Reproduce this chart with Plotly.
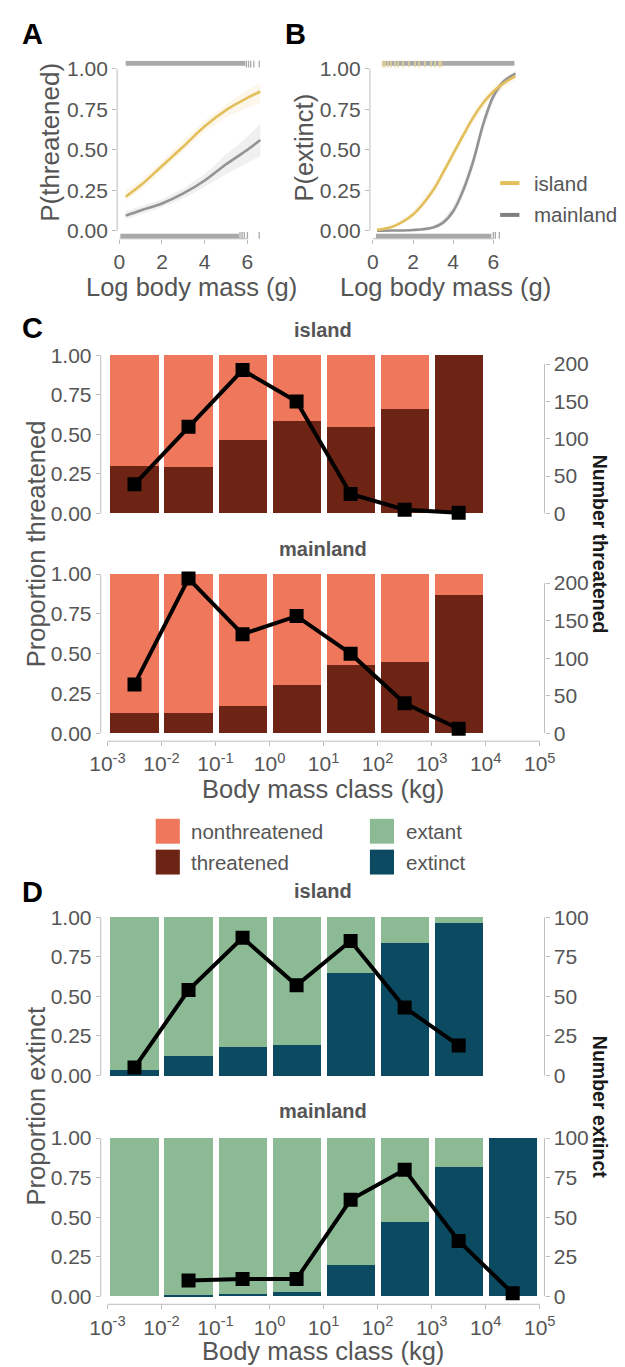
import numpy as np
import plotly.graph_objects as go

W, H = 625, 1367
FONT = "Liberation Sans, Arial, Helvetica, sans-serif"
TXT = "#555555"
AXC = "#bdbdbd"

# ---------------- data ----------------
# Panel A: fitted probability of being threatened vs log body mass
logmass_a = [0.3, 1.0, 2.0, 3.0, 4.0, 5.0, 6.0, 6.6]
thr_island = [0.21, 0.28, 0.40, 0.52, 0.645, 0.745, 0.82, 0.86]
thr_island_lo = [0.18, 0.25, 0.37, 0.49, 0.61, 0.70, 0.76, 0.79]
thr_island_hi = [0.25, 0.31, 0.43, 0.56, 0.68, 0.78, 0.87, 0.91]
thr_main = [0.093, 0.125, 0.168, 0.23, 0.31, 0.41, 0.50, 0.56]
thr_main_lo = [0.07, 0.10, 0.145, 0.20, 0.27, 0.35, 0.42, 0.46]
thr_main_hi = [0.12, 0.15, 0.195, 0.26, 0.35, 0.47, 0.58, 0.66]

# Panel B: fitted probability of extinction vs log body mass
logmass_b = [0.2, 1.0, 2.0, 3.0, 3.5, 4.0, 4.5, 5.0, 5.5, 6.0, 6.5, 7.1]
ext_island = [0.005, 0.026, 0.10, 0.25, 0.36, 0.475, 0.59, 0.70, 0.79, 0.86, 0.91, 0.955]
ext_island_lo = [0.002, 0.018, 0.08, 0.22, 0.33, 0.445, 0.56, 0.67, 0.76, 0.83, 0.88, 0.93]
ext_island_hi = [0.010, 0.035, 0.12, 0.28, 0.39, 0.505, 0.62, 0.73, 0.82, 0.89, 0.935, 0.975]
ext_main = [0.0, 0.001, 0.004, 0.02, 0.05, 0.12, 0.25, 0.43, 0.66, 0.83, 0.92, 0.97]
ext_main_lo = [0.0, 0.0, 0.002, 0.012, 0.035, 0.095, 0.215, 0.39, 0.62, 0.80, 0.90, 0.955]
ext_main_hi = [0.001, 0.003, 0.008, 0.03, 0.07, 0.15, 0.29, 0.47, 0.70, 0.86, 0.94, 0.985]

# Rugs of observed body masses (dense span + isolated species)
rug_a_top_span = [0.3, 5.9]
rug_a_top_ticks = [5.95, 6.05, 6.15, 6.3, 6.55]
rug_a_bot_span = [0.05, 5.6]
rug_a_bot_ticks = [5.65, 5.75, 5.85, 6.0, 6.55]
rug_b_top_span = [0.45, 7.05]
rug_b_top_island = [0.5, 0.6, 0.75, 0.9, 1.1, 1.25, 1.5, 1.8, 2.1, 2.3, 2.6, 2.9, 3.1, 3.3, 3.4]
rug_b_bot_span = [0.15, 5.9]
rug_b_bot_ticks = [6.0, 6.1, 6.3]

# Panels C/D: body-mass classes (lower bound, kg)
class_lower_kg = [1e-3, 1e-2, 1e-1, 1.0, 10.0, 100.0, 1e3, 1e4]
mass_tick_exp = [-3, -2, -1, 0, 1, 2, 3, 4, 5]

prop_threatened_island = [0.30, 0.293, 0.464, 0.586, 0.549, 0.66, 1.0]
num_threatened_island = [39, 116, 192, 150, 26, 5, 1]
prop_threatened_main = [0.125, 0.125, 0.171, 0.302, 0.427, 0.446, 0.869]
num_threatened_main = [65, 206, 132, 156, 106, 40, 6]

prop_extinct_island = [0.032, 0.126, 0.183, 0.194, 0.648, 0.838, 0.962]
num_extinct_island = [5, 54, 87, 57, 85, 43, 19]
prop_extinct_main = [0.0, 0.008, 0.017, 0.025, 0.20, 0.469, 0.815, 1.0]
num_extinct_main = [None, 10, 11, 11, 61, 80, 35, 2]

# secondary (count) axis scale relative to the proportion axis
count_scale_threatened = 212.0
count_scale_extinct = 100.0

COL_ISLAND = "#e3bf5c"
COL_MAIN = "#939393"
COL_NONTHR = "#ee775c"
COL_THR = "#6d2415"
COL_EXTANT = "#8cba95"
COL_EXTINCT = "#0b4a60"


def xdom(a, b):
    return [a / W, b / W]


def ydom(top, bottom):
    return [1 - bottom / H, 1 - top / H]


def px(x):
    return x / W


def py(y):
    return 1 - y / H


fig = go.Figure()

# ---------------- panels A and B ----------------
def band(x, lo, hi, color, xa, ya):
    fig.add_trace(go.Scatter(x=list(x) + list(x)[::-1], y=list(hi) + list(lo)[::-1],
                             fill="toself", fillcolor=color, line=dict(width=0),
                             mode="lines", xaxis=xa, yaxis=ya, showlegend=False, hoverinfo="skip"))


def curve(x, y, color, xa, ya):
    fig.add_trace(go.Scatter(x=x, y=y, mode="lines", line=dict(color=color, width=2.6, shape="spline"),
                             xaxis=xa, yaxis=ya, showlegend=False))


def rug(span, ticks, yv, color, xa, ya):
    fig.add_trace(go.Scatter(x=span, y=[yv, yv], mode="lines", line=dict(color=color, width=5),
                             xaxis=xa, yaxis=ya, showlegend=False, hoverinfo="skip"))
    if ticks:
        fig.add_trace(go.Scatter(x=ticks, y=[yv] * len(ticks), mode="markers",
                                 marker=dict(symbol="line-ns", size=6, line=dict(color=color, width=1.3)),
                                 xaxis=xa, yaxis=ya, showlegend=False, hoverinfo="skip"))


RUG_TOP, RUG_BOT = 1.034, -0.034
RUGC = "#a9a9a9"

band(logmass_a, thr_main_lo, thr_main_hi, "rgba(160,160,160,0.16)", "x", "y")
band(logmass_a, thr_island_lo, thr_island_hi, "rgba(230,195,95,0.13)", "x", "y")
curve(logmass_a, thr_main, COL_MAIN, "x", "y")
curve(logmass_a, thr_island, COL_ISLAND, "x", "y")
rug(rug_a_top_span, rug_a_top_ticks, RUG_TOP, RUGC, "x", "y")
rug(rug_a_bot_span, rug_a_bot_ticks, RUG_BOT, RUGC, "x", "y")

band(logmass_b, ext_main_lo, ext_main_hi, "rgba(160,160,160,0.16)", "x2", "y2")
band(logmass_b, ext_island_lo, ext_island_hi, "rgba(230,195,95,0.13)", "x2", "y2")
curve(logmass_b, ext_main, COL_MAIN, "x2", "y2")
curve(logmass_b, ext_island, COL_ISLAND, "x2", "y2")
rug(rug_b_top_span, None, RUG_TOP, RUGC, "x2", "y2")
fig.add_trace(go.Scatter(x=rug_b_top_island, y=[RUG_TOP] * len(rug_b_top_island), mode="markers",
                         marker=dict(symbol="line-ns", size=6, line=dict(color="#ead79c", width=1.4)),
                         xaxis="x2", yaxis="y2", showlegend=False, hoverinfo="skip"))
rug(rug_b_bot_span, rug_b_bot_ticks, RUG_BOT, RUGC, "x2", "y2")

# ---------------- panels C and D ----------------
class_mid = np.log10(class_lower_kg) + 0.5

bar_panels = [
    dict(xa="x3", ya="y3", ya2="y7", prop=prop_threatened_island, num=num_threatened_island,
         dark=COL_THR, light=COL_NONTHR, k=count_scale_threatened, cticks=[0, 50, 100, 150, 200]),
    dict(xa="x4", ya="y4", ya2="y8", prop=prop_threatened_main, num=num_threatened_main,
         dark=COL_THR, light=COL_NONTHR, k=count_scale_threatened, cticks=[0, 50, 100, 150, 200]),
    dict(xa="x5", ya="y5", ya2="y9", prop=prop_extinct_island, num=num_extinct_island,
         dark=COL_EXTINCT, light=COL_EXTANT, k=count_scale_extinct, cticks=[0, 25, 50, 75, 100]),
    dict(xa="x6", ya="y6", ya2="y10", prop=prop_extinct_main, num=num_extinct_main,
         dark=COL_EXTINCT, light=COL_EXTANT, k=count_scale_extinct, cticks=[0, 25, 50, 75, 100]),
]

for p in bar_panels:
    n = len(p["prop"])
    xs = class_mid[:n]
    dark = np.array(p["prop"], dtype=float)
    fig.add_trace(go.Bar(x=xs, y=dark, width=0.89, marker=dict(color=p["dark"], line=dict(width=0)),
                         xaxis=p["xa"], yaxis=p["ya"], showlegend=False))
    fig.add_trace(go.Bar(x=xs, y=1 - dark, width=0.89, marker=dict(color=p["light"], line=dict(width=0)),
                         xaxis=p["xa"], yaxis=p["ya"], showlegend=False))
    fig.add_trace(go.Scatter(x=xs, y=p["num"], mode="lines+markers",
                             line=dict(color="black", width=4),
                             marker=dict(symbol="square", size=14, color="black"),
                             xaxis=p["xa"], yaxis=p["ya2"], showlegend=False, connectgaps=False))

# ---------------- axes ----------------
tickfont = dict(family=FONT, size=21, color=TXT)
base = dict(showgrid=False, zeroline=False, showline=False, ticks="outside", ticklen=4,
            tickwidth=1, tickcolor=AXC, tickfont=tickfont)
prop_ticks = [0, 0.25, 0.5, 0.75, 1.0]
prop_text = [f"{v:.2f}" for v in prop_ticks]
yr = [-0.05, 1.05]

layout = dict(
    width=W, height=H, margin=dict(l=0, r=0, t=0, b=0),
    paper_bgcolor="white", plot_bgcolor="rgba(0,0,0,0)",
    barmode="stack", showlegend=False, font=dict(family=FONT, color=TXT),
)
layout["xaxis"] = dict(base, domain=xdom(110, 265), range=[-0.1, 6.9], tickvals=[0, 2, 4, 6], anchor="y")
layout["yaxis"] = dict(base, domain=ydom(57, 236), range=yr, tickvals=prop_ticks, ticktext=prop_text, anchor="x")
layout["xaxis2"] = dict(base, domain=xdom(372, 527), range=[-0.15, 7.3], tickvals=[0, 2, 4, 6], anchor="y2")
layout["yaxis2"] = dict(base, domain=ydom(57, 236), range=yr, tickvals=prop_ticks, ticktext=prop_text, anchor="x2")

xr = [-3.125, 5.089]
mass_text = [f"10<sup>{e}</sup>" for e in mass_tick_exp]
panel_px = [(345, 520), (565, 741), (910, 1085), (1132, 1307)]
for i, (p, (top, bot)) in enumerate(zip(bar_panels, panel_px)):
    xi = p["xa"][1:]
    yi = p["ya"][1:]
    y2i = p["ya2"][1:]
    showx = i in (1, 3)
    layout["xaxis" + xi] = dict(base, domain=xdom(93, 553), range=xr, anchor=p["ya"],
                               tickvals=mass_tick_exp, ticktext=mass_text,
                               showticklabels=showx, ticks="outside" if showx else "")
    layout["yaxis" + yi] = dict(base, domain=ydom(top, bot), range=yr, anchor=p["xa"],
                               tickvals=prop_ticks, ticktext=prop_text)
    layout["yaxis" + y2i] = dict(base, overlaying=p["ya"], side="right", anchor=p["xa"],
                                range=[yr[0] * p["k"], yr[1] * p["k"]], tickvals=p["cticks"])

# capped axis lines
shapes = []
line_style = dict(color=AXC, width=1)
for xa, ya, xt in [("x", "y", [0, 6]), ("x2", "y2", [0, 6])]:
    shapes.append(dict(type="line", xref=xa + " domain", x0=0, x1=0, yref=ya, y0=0, y1=1, line=line_style))
    shapes.append(dict(type="line", xref=xa, x0=xt[0], x1=xt[1], yref=ya + " domain", y0=0, y1=0, line=line_style))
for i, p in enumerate(bar_panels):
    shapes.append(dict(type="line", xref=p["xa"] + " domain", x0=0, x1=0, yref=p["ya"], y0=0, y1=1, line=line_style))
    shapes.append(dict(type="line", xref=p["xa"] + " domain", x0=1, x1=1, yref=p["ya2"],
                       y0=p["cticks"][0], y1=p["cticks"][-1], line=line_style))
    if i in (1, 3):
        shapes.append(dict(type="line", xref=p["xa"], x0=mass_tick_exp[0], x1=mass_tick_exp[-1],
                           yref=p["ya"] + " domain", y0=0, y1=0, line=line_style))

# legend of panel B
leg_b = [("island", COL_ISLAND, 180), ("mainland", "#7f7f7f", 212)]
annotations = []
for lab, col, yy in leg_b:
    shapes.append(dict(type="line", xref="paper", yref="paper", x0=px(507), x1=px(527), y0=py(yy), y1=py(yy),
                       line=dict(color=col, width=4)))
    annotations.append(dict(text=lab, x=px(540), y=py(yy), xanchor="left", yanchor="middle",
                            font=dict(size=20.5, color=TXT)))

# legend for bar fills
leg_bars = [("nonthreatened", COL_NONTHR, 150, 819), ("threatened", COL_THR, 150, 850),
            ("extant", COL_EXTANT, 372, 819), ("extinct", COL_EXTINCT, 372, 850)]
for lab, col, x0, y0 in leg_bars:
    shapes.append(dict(type="rect", xref="paper", yref="paper", x0=px(x0), x1=px(x0 + 25),
                       y0=py(y0 + 25), y1=py(y0), fillcolor=col, line=dict(width=0)))
    annotations.append(dict(text=lab, x=px(x0 + 35), y=py(y0 + 12.5), xanchor="left", yanchor="middle",
                            font=dict(size=20.5, color=TXT)))


def note(text, x, y, size, color=TXT, bold=False, angle=0, xanchor="center"):
    t = f"<b>{text}</b>" if bold else text
    annotations.append(dict(text=t, x=px(x), y=py(y), xanchor=xanchor, yanchor="middle",
                            textangle=angle, font=dict(size=size, color=color)))


# panel letters
for letter, x, y in [("A", 9, 30), ("B", 282, 30), ("C", 9, 326), ("D", 9, 893)]:
    note(letter, x, y, 29, color="black", bold=True, xanchor="left")

# axis titles
note("P(threatened)", 41, 139, 26, angle=-90)
note("Log body mass (g)", 187, 284, 25.5)
note("P(extinct)", 304, 144, 25.5, angle=-90)
note("Log body mass (g)", 450, 284, 25.5)

# facet strips
for lab, y in [("island", 328), ("mainland", 548), ("island", 892), ("mainland", 1113)]:
    note(lab, 323, y, 20, bold=True)

note("Proportion threatened", 26, 543, 25.5, angle=-90)
note("Number threatened", 610, 543, 19.5, color="#1a1a1a", bold=True, angle=90)
note("Body mass class (kg)", 323, 789, 25.5)
note("Proportion extinct", 26, 1108, 25.5, angle=-90)
note("Number extinct", 610, 1108, 19.5, color="#1a1a1a", bold=True, angle=90)
note("Body mass class (kg)", 323, 1354, 25.5)

for a in annotations:
    a.setdefault("xref", "paper")
    a.setdefault("yref", "paper")
    a["showarrow"] = False
    a["font"]["family"] = FONT

layout["shapes"] = shapes
layout["annotations"] = annotations
fig.update_layout(**layout)

fig.write_html("out.html")
